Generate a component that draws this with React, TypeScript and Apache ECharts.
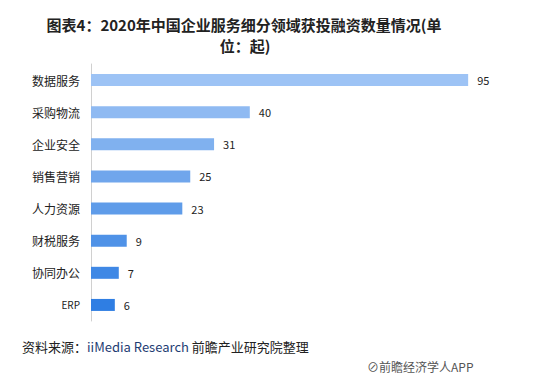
import React, { useEffect, useRef } from "react";
import * as echarts from "echarts";

const categories = ["数据服务", "采购物流", "企业安全", "销售营销", "人力资源", "财税服务", "协同办公", "ERP"];
const values = [95, 40, 31, 25, 23, 9, 7, 6];
const barColors = ["#9dc3f5", "#8fbaf2", "#80b1ef", "#70a6ec", "#5f9ce9", "#4f92e7", "#3f88e5", "#2f7ee3"];

const titleLine1 = "图表4：2020年中国企业服务细分领域获投融资数量情况(单";
const titleLine2 = "位：起)";

export default function App() {
  const ref = useRef<HTMLDivElement>(null);
  useEffect(() => {
    if (!ref.current) return;
    const chart = echarts.init(ref.current, undefined, { renderer: "svg" });
    const cjk = "'Noto Sans CJK SC', 'Noto Sans', sans-serif";
    chart.setOption({
      animation: false,
      backgroundColor: "#ffffff",
      textStyle: { fontFamily: cjk },
      grid: { left: 91, top: 64, right: 67, bottom: 54, containLabel: false },
      xAxis: {
        type: "value",
        min: 0,
        max: 100,
        show: false,
        splitLine: { show: false },
      },
      yAxis: {
        type: "category",
        data: categories,
        inverse: true,
        axisTick: { show: false },
        axisLine: { show: true, lineStyle: { color: "#d0d0d0", width: 1 } },
        axisLabel: {
          color: "#222",
          fontSize: 12,
          margin: 11,
          fontFamily: cjk,
          formatter: (v: string) => (v === "ERP" ? "{s|" + v + "}" : v),
          rich: { s: { fontSize: 10, color: "#222", fontFamily: cjk } },
        },
      },
      series: [
        {
          type: "bar",
          barWidth: 12,
          data: values.map((v, i) => ({ value: v, itemStyle: { color: barColors[i] } })),
          label: {
            show: true,
            position: "right",
            distance: 9,
            color: "#222",
            fontSize: 11,
            fontFamily: cjk,
          },
        },
      ],
      graphic: [
        {
          type: "text", x: 244, y: 24,
          style: { text: titleLine1, fill: "#222", font: "bold 15px " + cjk, align: "center", verticalAlign: "middle" },
        },
        {
          type: "text", x: 245, y: 45,
          style: { text: titleLine2, fill: "#222", font: "bold 15px " + cjk, align: "center", verticalAlign: "middle" },
        },
        {
          type: "text", x: 22, y: 346,
          style: {
            text: "{a|资料来源：}{b|iiMedia Research}{a| 前瞻产业研究院整理}",
            verticalAlign: "middle",
            rich: {
              a: { fill: "#222", fontSize: 13, fontFamily: cjk },
              b: { fill: "#1e3d73", fontSize: 13, fontFamily: cjk },
            },
          },
        },
        {
          type: "text", x: 367, y: 366,
          style: { text: "⊘前瞻经济学人APP", fill: "#555", font: "12px " + cjk, verticalAlign: "middle" },
        },
      ],
    });
    return () => chart.dispose();
  }, []);
  return (
    <div
      ref={ref}
      style={{ position: "fixed", left: 0, top: 0, width: 555, height: 375, background: "#fff" }}
    />
  );
}
